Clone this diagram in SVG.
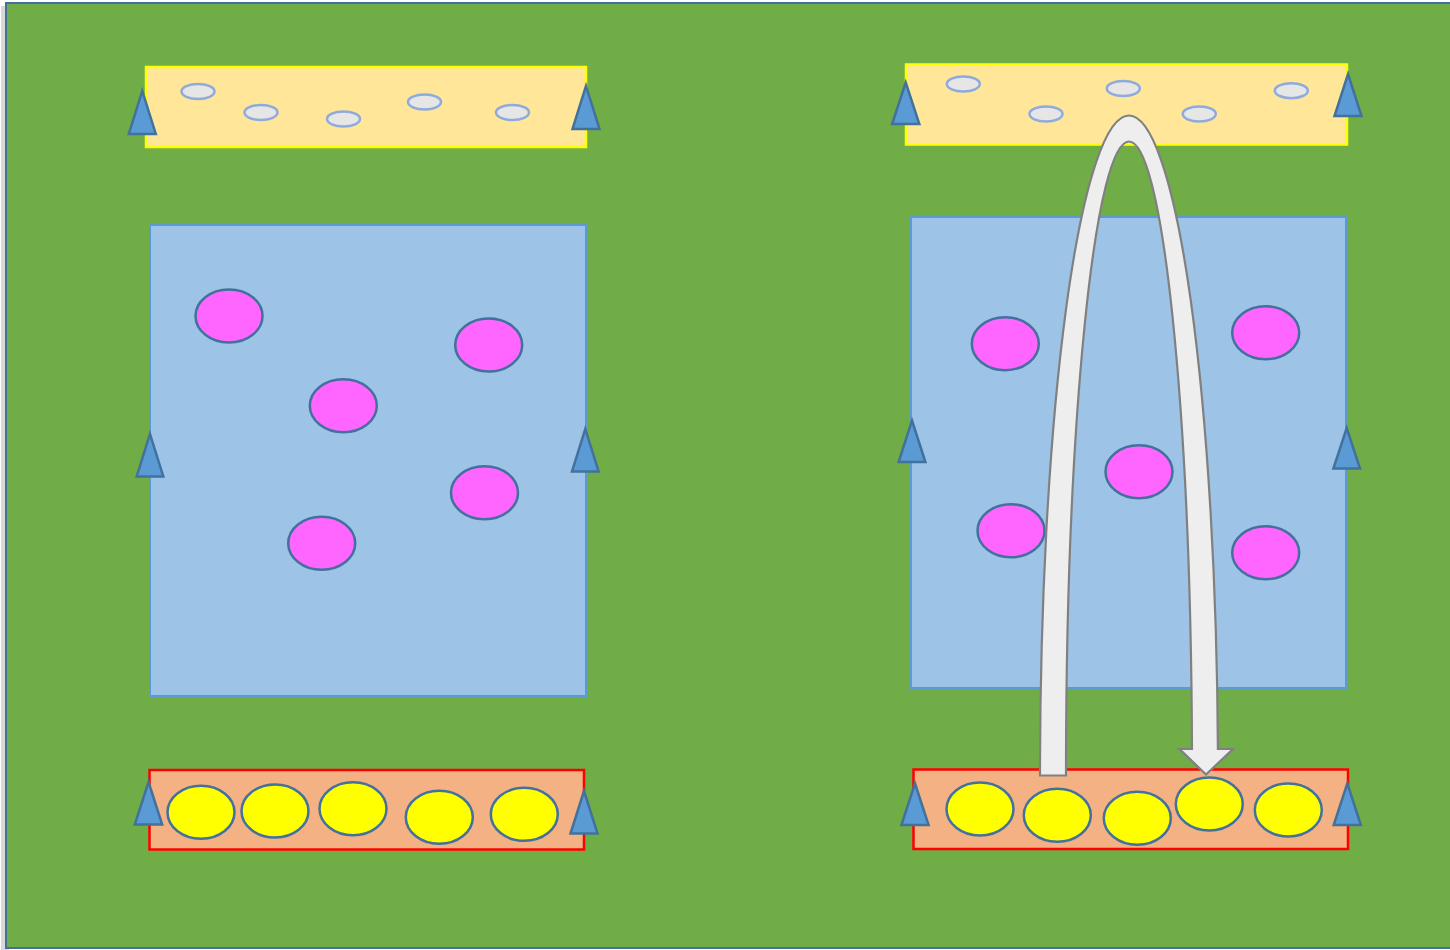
<svg xmlns="http://www.w3.org/2000/svg" width="1450" height="950" viewBox="0 0 1450 950">
  <style>
    .field { fill: #70ad47; stroke: #41719c; stroke-width: 2; }
    .sand { fill: #ffe699; stroke: #ffff00; stroke-width: 2.5; }
    .pool { fill: #9dc3e6; stroke: #5b9bd5; stroke-width: 2; }
    .mat { fill: #f4b183; stroke: #ff0000; stroke-width: 2.5; }
    .stone { fill: #e7e6e6; stroke: #8faadc; stroke-width: 2.5; }
    .pink { fill: #ff66ff; stroke: #41719c; stroke-width: 2.5; }
    .ball { fill: #ffff00; stroke: #41719c; stroke-width: 2.5; }
    .cone { fill: #5b9bd5; stroke: #41719c; stroke-width: 2.5; stroke-linejoin: miter; }
    .arrow { fill: #eeeeee; stroke: #808080; stroke-width: 2.2; stroke-linejoin: miter; }
  </style>
  <rect x="0" y="0" width="1450" height="950" fill="#ffffff"/>
  <rect x="1" y="6" width="8" height="946" fill="#d9d9d9"/>
  <g id="field">
    <rect class="field" x="6" y="3" width="1470" height="945"/>
  </g>

  <g id="left-top-band">
    <rect class="sand" x="146" y="67" width="440" height="80"/>
    <ellipse class="stone" cx="198" cy="91.5" rx="16.5" ry="7.5"/>
    <ellipse class="stone" cx="261" cy="112.5" rx="16.5" ry="7.5"/>
    <ellipse class="stone" cx="343.5" cy="119" rx="16.5" ry="7.5"/>
    <ellipse class="stone" cx="424.5" cy="102" rx="16.5" ry="7.5"/>
    <ellipse class="stone" cx="512.5" cy="112.5" rx="16.5" ry="7.5"/>
    <polygon class="cone" points="142.3,91 155.8,134 128.8,134"/>
    <polygon class="cone" points="586,86 599.5,129 572.5,129"/>
  </g>

  <g id="left-pool">
    <rect class="pool" x="150" y="225" width="436" height="471"/>
    <ellipse class="pink" cx="229" cy="316" rx="33.5" ry="26.5"/>
    <ellipse class="pink" cx="488.7" cy="345" rx="33.5" ry="26.5"/>
    <ellipse class="pink" cx="343.3" cy="405.7" rx="33.5" ry="26.5"/>
    <ellipse class="pink" cx="484.5" cy="492.7" rx="33.5" ry="26.5"/>
    <ellipse class="pink" cx="321.7" cy="543.3" rx="33.5" ry="26.5"/>
    <polygon class="cone" points="150,434 163.3,476.5 136.7,476.5"/>
    <polygon class="cone" points="585.3,429 598.6,471.5 572,471.5"/>
  </g>

  <g id="left-bottom-band">
    <rect class="mat" x="149.5" y="770" width="434.5" height="79.5"/>
    <ellipse class="ball" cx="201" cy="812.3" rx="33.5" ry="26.5"/>
    <ellipse class="ball" cx="275" cy="811" rx="33.5" ry="26.5"/>
    <ellipse class="ball" cx="353" cy="808.7" rx="33.5" ry="26.5"/>
    <ellipse class="ball" cx="439.3" cy="817.3" rx="33.5" ry="26.5"/>
    <ellipse class="ball" cx="524.3" cy="814.3" rx="33.5" ry="26.5"/>
    <polygon class="cone" points="148.5,782 162.2,824.5 134.8,824.5"/>
    <polygon class="cone" points="584,791 597.5,833.5 570.5,833.5"/>
  </g>

  <g id="right-top-band">
    <rect class="sand" x="906" y="64.5" width="441" height="80"/>
    <ellipse class="stone" cx="963.3" cy="84" rx="16.5" ry="7.5"/>
    <ellipse class="stone" cx="1046" cy="114" rx="16.5" ry="7.5"/>
    <ellipse class="stone" cx="1123.3" cy="88.5" rx="16.5" ry="7.5"/>
    <ellipse class="stone" cx="1199.3" cy="114" rx="16.5" ry="7.5"/>
    <ellipse class="stone" cx="1291.3" cy="90.7" rx="16.5" ry="7.5"/>
    <polygon class="cone" points="905.7,82.5 919.3,124 892.1,124"/>
    <polygon class="cone" points="1348,74 1361.5,116 1334.5,116"/>
  </g>

  <g id="right-pool">
    <rect class="pool" x="911" y="217" width="435" height="471"/>
    <ellipse class="pink" cx="1005.3" cy="343.7" rx="33.5" ry="26.5"/>
    <ellipse class="pink" cx="1265.7" cy="332.7" rx="33.5" ry="26.5"/>
    <ellipse class="pink" cx="1139" cy="471.7" rx="33.5" ry="26.5"/>
    <ellipse class="pink" cx="1011" cy="530.7" rx="33.5" ry="26.5"/>
    <ellipse class="pink" cx="1265.7" cy="552.7" rx="33.5" ry="26.5"/>
    <polygon class="cone" points="912,420.5 925.4,462 898.6,462"/>
    <polygon class="cone" points="1346.7,428 1360,468.5 1333.4,468.5"/>
  </g>

  <g id="right-bottom-band">
    <rect class="mat" x="913.5" y="769.5" width="434.5" height="79.5"/>
    <ellipse class="ball" cx="980" cy="809" rx="33.5" ry="26.5"/>
    <ellipse class="ball" cx="1057.3" cy="815.3" rx="33.5" ry="26.5"/>
    <ellipse class="ball" cx="1137.3" cy="818.3" rx="33.5" ry="26.5"/>
    <ellipse class="ball" cx="1209.3" cy="804" rx="33.5" ry="26.5"/>
    <ellipse class="ball" cx="1288.3" cy="810" rx="33.5" ry="26.5"/>
    <polygon class="cone" points="915,783.5 928.6,825 901.4,825"/>
    <polygon class="cone" points="1347.3,783.5 1360.9,825 1333.7,825"/>
  </g>

  <g id="connectors">
    <path class="arrow" d="M 1040,775.5 A 89 660 0 0 1 1129,115.5 A 89 660 0 0 1 1217.9,749 L 1233,749 L 1206,774.5 L 1179.5,749 L 1192,749 A 63 634 0 0 0 1129,141.5 A 63 634 0 0 0 1066,775.5 Z"/>
  </g>
</svg>
